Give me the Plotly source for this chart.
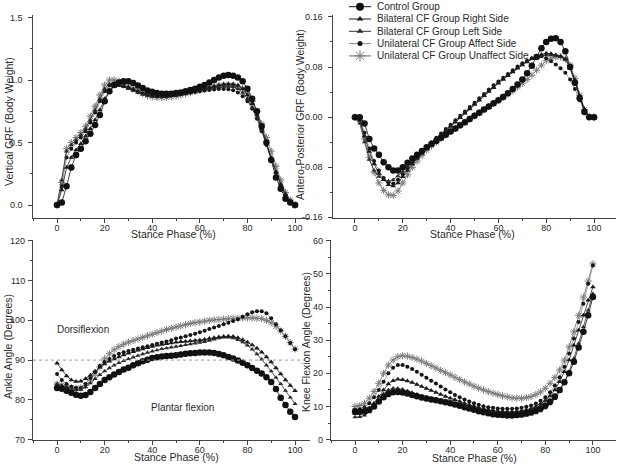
import plotly.graph_objects as go

W, H = 622, 464

# ---------------- data ----------------
stance = [0, 2, 4, 6, 8, 10, 12, 14, 16, 18, 20, 22, 24, 26, 28, 30, 32, 34, 36, 38, 40,
          42, 44, 46, 48, 50, 52, 54, 56, 58, 60, 62, 64, 66, 68, 70, 72, 74, 76, 78, 80,
          82, 84, 86, 88, 90, 92, 94, 96, 98, 100]

series_names = ["Control Group", "Bilateral CF Group Right Side", "Bilateral CF Group Left Side",
                "Unilateral CF Group Affect Side", "Unilateral CF Group Unaffect Side"]

# Vertical GRF (Body Weight)
ctrl_v = [0, 0.02, 0.15, 0.30, 0.40, 0.45, 0.51, 0.57, 0.64, 0.72, 0.83, 0.91, 0.96, 0.98, 0.99, 0.99,
          0.975, 0.955, 0.935, 0.915, 0.905, 0.895, 0.89, 0.89, 0.89, 0.895, 0.90, 0.91, 0.92, 0.93,
          0.945, 0.96, 0.98, 1.0, 1.02, 1.035, 1.04, 1.035, 1.02, 0.99, 0.93, 0.85, 0.75, 0.63, 0.50,
          0.36, 0.22, 0.13, 0.05, 0.02, 0.0]
bR_v = [0, 0.12, 0.30, 0.38, 0.44, 0.49, 0.55, 0.61, 0.68, 0.76, 0.85, 0.91, 0.945, 0.955, 0.95, 0.94,
        0.925, 0.91, 0.895, 0.885, 0.878, 0.872, 0.87, 0.87, 0.873, 0.878, 0.885, 0.893, 0.9, 0.91,
        0.92, 0.93, 0.94, 0.95, 0.958, 0.965, 0.968, 0.965, 0.955, 0.93, 0.88, 0.81, 0.72, 0.61, 0.49,
        0.37, 0.26, 0.16, 0.08, 0.03, 0.0]
bL_v = [0, 0.20, 0.43, 0.48, 0.52, 0.56, 0.61, 0.68, 0.76, 0.85, 0.93, 0.97, 0.975, 0.965, 0.95, 0.93,
        0.915, 0.9, 0.885, 0.875, 0.87, 0.865, 0.865, 0.868, 0.873, 0.88, 0.888, 0.896, 0.904, 0.912,
        0.92, 0.927, 0.933, 0.938, 0.943, 0.947, 0.948, 0.945, 0.93, 0.9, 0.85, 0.78, 0.70, 0.60, 0.49,
        0.38, 0.27, 0.17, 0.09, 0.03, 0.0]
uA_v = [0, 0.15, 0.38, 0.45, 0.50, 0.54, 0.59, 0.66, 0.74, 0.83, 0.91, 0.955, 0.965, 0.96, 0.95, 0.935,
        0.92, 0.905, 0.89, 0.88, 0.872, 0.868, 0.868, 0.87, 0.875, 0.88, 0.886, 0.892, 0.898, 0.904,
        0.91, 0.915, 0.92, 0.924, 0.927, 0.928, 0.926, 0.918, 0.9, 0.87, 0.83, 0.77, 0.69, 0.59, 0.48,
        0.37, 0.26, 0.16, 0.08, 0.03, 0.0]
uU_v = [0, 0.18, 0.45, 0.50, 0.54, 0.58, 0.63, 0.71, 0.79, 0.88, 0.96, 1.0, 1.0, 0.99, 0.97, 0.95,
        0.93, 0.91, 0.89, 0.875, 0.865, 0.86, 0.858, 0.86, 0.865, 0.872, 0.88, 0.89, 0.9, 0.91,
        0.92, 0.93, 0.94, 0.948, 0.955, 0.958, 0.96, 0.958, 0.95, 0.93, 0.89, 0.83, 0.75, 0.65, 0.54,
        0.43, 0.31, 0.2, 0.1, 0.04, 0.0]

# Antero-Posterior GRF (Body Weight)
ctrl_ap = [0, 0, -0.01, -0.035, -0.05, -0.06, -0.072, -0.08, -0.085, -0.085, -0.08, -0.073, -0.066,
           -0.06, -0.054, -0.048, -0.043, -0.038, -0.033, -0.028, -0.023, -0.018, -0.013, -0.008,
           -0.003, 0.002, 0.007, 0.012, 0.017, 0.022, 0.027, 0.032, 0.038, 0.045, 0.052, 0.06, 0.07,
           0.082, 0.096, 0.11, 0.12, 0.125, 0.126, 0.12, 0.105, 0.08, 0.055, 0.03, 0.008, 0.0, 0.0]
bR_ap = [0, -0.005, -0.03, -0.055, -0.075, -0.09, -0.1, -0.108, -0.11, -0.105, -0.095, -0.085, -0.075,
         -0.066, -0.058, -0.05, -0.043, -0.036, -0.029, -0.022, -0.015, -0.008, -0.001, 0.006, 0.013,
         0.02, 0.027, 0.034, 0.041, 0.047, 0.054, 0.06, 0.066, 0.072, 0.078, 0.083, 0.088, 0.093,
         0.097, 0.1, 0.102, 0.101, 0.099, 0.097, 0.092, 0.078, 0.057, 0.032, 0.012, 0.001, -0.002]
bL_ap = [0, -0.01, -0.04, -0.068, -0.085, -0.095, -0.1, -0.102, -0.1, -0.094, -0.087, -0.079, -0.071,
         -0.063, -0.056, -0.049, -0.042, -0.035, -0.028, -0.021, -0.014, -0.007, 0.0, 0.007, 0.014,
         0.021, 0.028, 0.035, 0.042, 0.048, 0.055, 0.061, 0.067, 0.073, 0.079, 0.084, 0.089, 0.093,
         0.096, 0.098, 0.099, 0.099, 0.098, 0.097, 0.093, 0.08, 0.06, 0.035, 0.013, 0.002, 0.0]
uA_ap = [0, -0.003, -0.025, -0.05, -0.07, -0.085, -0.097, -0.104, -0.106, -0.1, -0.091, -0.082, -0.073,
         -0.064, -0.056, -0.048, -0.04, -0.033, -0.026, -0.019, -0.012, -0.005, 0.002, 0.009, 0.016,
         0.023, 0.03, 0.037, 0.044, 0.051, 0.057, 0.063, 0.069, 0.075, 0.081, 0.086, 0.09, 0.094,
         0.097, 0.097, 0.094, 0.089, 0.084, 0.078, 0.071, 0.06, 0.045, 0.027, 0.01, 0.001, 0.0]
uU_ap = [0, -0.005, -0.035, -0.065, -0.088, -0.105, -0.117, -0.124, -0.125, -0.118, -0.105, -0.092,
         -0.08, -0.07, -0.061, -0.053, -0.046, -0.04, -0.034, -0.028, -0.023, -0.018, -0.013, -0.008,
         -0.003, 0.002, 0.007, 0.012, 0.017, 0.022, 0.027, 0.032, 0.037, 0.042, 0.048, 0.054, 0.06,
         0.067, 0.075, 0.083, 0.09, 0.094, 0.096, 0.096, 0.093, 0.083, 0.062, 0.035, 0.012, 0.001, 0.0]

# Ankle Angle (Degrees)
ctrl_a = [83, 82.8, 82.3, 81.8, 81.3, 81, 81.2, 82, 83, 84, 85, 85.7, 86.4, 87, 87.6, 88.1, 88.7, 89.2,
          89.7, 90.1, 90.5, 90.7, 90.9, 91, 91.1, 91.2, 91.4, 91.6, 91.7, 91.8, 91.9, 91.9, 91.9, 91.8,
          91.5, 91.2, 90.8, 90.4, 89.9, 89.3, 88.7, 88, 87.3, 86.6, 85.7, 84.5, 82.7, 80.5, 78.7, 77,
          75.7]
bR_a = [89.2, 87.5, 86, 85, 84.6, 84.7, 85.3, 86.2, 87.2, 88.2, 89, 89.7, 90.3, 90.8, 91.3, 91.7, 92.1,
        92.5, 92.8, 93.1, 93.4, 93.7, 93.9, 94.1, 94.3, 94.5, 94.6, 94.7, 94.8, 94.9, 95, 95.2, 95.4,
        95.6, 95.8, 95.9, 96, 95.9, 95.6, 95.1, 94.5, 93.8, 93, 92, 90.8, 89.5, 88, 86.5, 85, 83.6, 82.3]
bL_a = [84, 83.6, 83.2, 82.8, 82.5, 82.6, 83.2, 84.2, 85.3, 86.3, 87.2, 88, 88.7, 89.3, 89.8, 90.3, 90.7,
        91.1, 91.5, 91.9, 92.2, 92.5, 92.8, 93, 93.2, 93.4, 93.6, 93.8, 94, 94.2, 94.4, 94.6, 94.9, 95.2,
        95.5, 95.7, 95.7, 95.5, 95.1, 94.5, 93.7, 92.7, 91.5, 90.2, 88.7, 87.2, 85.6, 84, 82.3, 80.6, 79]
uA_a = [86.5, 85, 84, 83.3, 83, 83, 84, 85.5, 87, 88.5, 89.5, 90.3, 91, 91.6, 92, 92.3, 92.6, 92.9, 93.2,
        93.5, 93.8, 94.1, 94.4, 94.7, 95, 95.4, 95.7, 96, 96.3, 96.6, 97, 97.4, 97.8, 98.2, 98.6, 99, 99.4,
        99.8, 100.3, 100.9, 101.5, 102, 102.3, 102.3, 101.8, 100.5, 99, 97.5, 96, 94.3, 92.7]
uU_a = [84, 83.7, 83.4, 83.1, 82.9, 83, 83.6, 84.8, 86.5, 88.3, 90.3, 91.6, 92.6, 93.4, 94, 94.5, 94.9,
        95.3, 95.7, 96.1, 96.5, 96.9, 97.3, 97.7, 98, 98.3, 98.6, 98.9, 99.2, 99.4, 99.6, 99.8, 100,
        100.1, 100.2, 100.3, 100.4, 100.5, 100.5, 100.6, 100.6, 100.6, 100.5, 100.4, 100, 99.4, 98.5,
        97.3, 96, 94.4, 92.8]

# Knee Flexion Angle (Degrees)
ctrl_k = [8.5, 8.4, 8.5, 9, 10, 11.5, 12.8, 13.8, 14.3, 14.4, 14.2, 13.9, 13.5, 13.1, 12.7, 12.4, 12.1,
          11.9, 11.6, 11.3, 11, 10.6, 10.2, 9.8, 9.4, 9, 8.6, 8.3, 8, 7.7, 7.5, 7.4, 7.3, 7.3, 7.4, 7.6,
          7.9, 8.3, 8.8, 9.5, 10.3, 11.5, 13, 15, 17.3, 20, 23.5, 27.8, 32.5, 37.5, 43]
bR_k = [7.8, 8, 8.5, 9.5, 11, 13, 15, 16.8, 17.8, 18.2, 18.1, 17.7, 17.2, 16.6, 16, 15.4, 14.8, 14.2,
        13.6, 13, 12.5, 12, 11.5, 11, 10.5, 10.1, 9.7, 9.3, 9, 8.8, 8.6, 8.5, 8.4, 8.4, 8.5, 8.7, 9, 9.4,
        10, 10.8, 11.8, 13.2, 15, 17.5, 20.5, 24, 28.5, 33, 37.5, 42, 46]
bL_k = [6.8, 6.9, 7.3, 8.3, 10, 12, 13.8, 15, 15.5, 15.5, 15.2, 14.7, 14.2, 13.7, 13.2, 12.8, 12.4, 12,
        11.6, 11.2, 10.8, 10.4, 10, 9.6, 9.2, 8.8, 8.4, 8.1, 7.8, 7.5, 7.3, 7.1, 7, 7, 7, 7.1, 7.3, 7.6,
        8, 8.6, 9.5, 10.7, 12.3, 14.5, 17.2, 20.5, 24.5, 29, 34, 39, 44]
uA_k = [9, 9.2, 9.8, 11, 12.8, 15, 17.5, 20, 21.7, 22.5, 22.5, 22, 21.3, 20.5, 19.6, 18.7, 17.8, 16.9,
        16, 15.1, 14.3, 13.5, 12.8, 12.1, 11.5, 11, 10.5, 10.1, 9.8, 9.6, 9.4, 9.3, 9.3, 9.3, 9.4, 9.6,
        9.9, 10.3, 10.9, 11.7, 12.8, 14.3, 16.3, 18.8, 22, 26, 30.5, 35.5, 41, 47, 52.5]
uU_k = [10, 10.3, 11, 12.5, 14.5, 17, 20, 22.5, 24, 25, 25.3, 25.2, 24.8, 24.3, 23.7, 23, 22.3, 21.6,
        20.9, 20.2, 19.5, 18.8, 18.1, 17.4, 16.8, 16.1, 15.5, 15, 14.5, 14, 13.6, 13.2, 12.9, 12.6, 12.5,
        12.5, 12.7, 13, 13.6, 14.4, 15.5, 17, 18.7, 21, 24, 28, 32.5, 37.5, 43, 47.8, 53]

# tick labels
x_ticks = [0, 20, 40, 60, 80, 100]
y_ticks = [
    ([0.0, 0.5, 1.0, 1.5], ["0.0", "0.5", "1.0", "1.5"]),
    ([-0.16, -0.08, 0.0, 0.08, 0.16], ["-0.16", "-0.08", "0.00", "0.08", "0.16"]),
    ([70, 80, 90, 100, 110, 120], ["70", "80", "90", "100", "110", "120"]),
    ([0, 10, 20, 30, 40, 50, 60], ["0", "10", "20", "30", "40", "50", "60"]),
]
x_title = "Stance Phase (%)"
y_titles = ["Vertical GRF (Body Weight)", "Antero-Posterior GRF (Body Weight)",
            "Ankle Angle (Degrees)", "Knee Flexion Angle (Degrees)"]

panel_data = [
    [ctrl_v, bR_v, bL_v, uA_v, uU_v],
    [ctrl_ap, bR_ap, bL_ap, uA_ap, uU_ap],
    [ctrl_a, bR_a, bL_a, uA_a, uU_a],
    [ctrl_k, bR_k, bL_k, uA_k, uU_k],
]

# ---------------- styles ----------------
FONT = "Arial, Liberation Sans, sans-serif"
TXT = "#2a2a2a"
AX = "#444444"

styles = [
    dict(symbol="circle", size=6.5, color="#111111", lc="#111111", lsize=8),
    dict(symbol="triangle-up", size=5, color="#1a1a1a", lc="#222222", lsize=6),
    dict(symbol="triangle-up", size=4.5, color="#2a2a2a", lc="#333333", lsize=6),
    dict(symbol="circle", size=4, color="#151515", lc="#8a8a8a", lsize=5),
    dict(symbol="asterisk-open", size=6, color="#7a7a7a", lc="#6a6a6a", lsize=9),
]


def marker_of(st, size):
    if st["symbol"] == "asterisk-open":
        return dict(symbol=st["symbol"], size=size, color=st["color"],
                    line=dict(color=st["color"], width=1))
    return dict(symbol=st["symbol"], size=size, color=st["color"], line=dict(width=0))


def xdom(a, b):
    return [a / W, b / W]


def ydom(top, bottom):
    return [1 - bottom / H, 1 - top / H]


fig = go.Figure()

# draw order: unaffect first so black control sits on top
for p, series in enumerate(panel_data):
    ax = "" if p == 0 else str(p + 1)
    for k in [4, 3, 2, 1, 0]:
        st = styles[k]
        fig.add_trace(go.Scatter(
            x=stance, y=series[k], mode="lines+markers", name=series_names[k],
            line=dict(color=st["lc"], width=0.8), marker=marker_of(st, st["size"]),
            xaxis="x" + ax, yaxis="y" + ax, showlegend=False))

# compact legend glyphs drawn on a layout-only helper axis
for i, st in enumerate(styles):
    fig.add_trace(go.Scatter(x=[0, 1], y=[i, i], mode="lines", line=dict(color=st["lc"], width=1),
                             xaxis="x5", yaxis="y5", showlegend=False, hoverinfo="skip"))
    fig.add_trace(go.Scatter(x=[0.5], y=[i], mode="markers", marker=marker_of(st, st["lsize"]),
                             xaxis="x5", yaxis="y5", showlegend=False, hoverinfo="skip"))


def xaxis(domain, rng, anchor):
    return dict(domain=domain, range=rng, anchor=anchor, showline=True, linecolor=AX, linewidth=1,
                ticks="outside", ticklen=4, tickcolor=AX, tickwidth=1, showgrid=False, zeroline=False,
                tickmode="array", tickvals=x_ticks, ticktext=[str(v) for v in x_ticks],
                ticklabelstandoff=-3,
                tickfont=dict(size=9, color=TXT, family=FONT),
                minor=dict(ticks="outside", ticklen=2, dtick=10, tick0=0, tickcolor=AX, showgrid=False))


def yaxis(domain, rng, anchor, ticks, mdtick):
    # tick labels are written as annotations below (same values, same place)
    return dict(domain=domain, range=rng, anchor=anchor, showline=True, linecolor=AX, linewidth=1,
                ticks="outside", ticklen=4, tickcolor=AX, tickwidth=1, showgrid=False, zeroline=False,
                tickmode="array", tickvals=ticks[0], showticklabels=False,
                minor=dict(ticks="outside", ticklen=2, dtick=mdtick, tick0=0, tickcolor=AX, showgrid=False))


top = ydom(15, 218)
bot = ydom(240, 440)

fig.update_layout(
    width=W, height=H, margin=dict(l=0, r=0, t=0, b=0),
    paper_bgcolor="white", plot_bgcolor="white", showlegend=False,
    font=dict(family=FONT, color=TXT, size=10),
    xaxis=xaxis(xdom(33, 310), [-10.1, 106.3], "y"),
    yaxis=yaxis(top, [-0.104, 1.52], "x", y_ticks[0], 0.25),
    xaxis2=xaxis(xdom(333, 616), [-9.2, 109.2], "y2"),
    yaxis2=yaxis(top, [-0.161, 0.163], "x2", y_ticks[1], 0.04),
    xaxis3=xaxis(xdom(33, 310), [-10.1, 106.3], "y3"),
    yaxis3=yaxis(bot, [69.9, 120.2], "x3", y_ticks[2], 5),
    xaxis4=xaxis(xdom(331, 616), [-10.1, 109.7], "y4"),
    yaxis4=yaxis(bot, [-0.1, 60.2], "x4", y_ticks[3], 5),
    xaxis5=dict(domain=xdom(349, 371), range=[0, 1], anchor="y5", visible=False),
    yaxis5=dict(domain=ydom(0.55, 62.05), range=[4.5, -0.5], anchor="x5", visible=False),
)

# dotted 90-degree reference line in ankle panel
fig.add_shape(type="line", xref="x3 domain", yref="y3", x0=0, x1=1, y0=90, y1=90,
              line=dict(color="#9a9a9a", width=1, dash="dot"))

ann = []
# y tick labels (gap from axis line as in the reference)
label_gap = [-8, -8, -6, -6]
for p, (vals, texts) in enumerate(y_ticks):
    ax = "" if p == 0 else str(p + 1)
    for v, t in zip(vals, texts):
        ann.append(dict(text=t, x=0, xref="x" + ax + " domain", y=v, yref="y" + ax,
                        xanchor="right", yanchor="middle", xshift=label_gap[p], showarrow=False,
                        font=dict(size=9, color=TXT, family=FONT)))
# x titles
for cx, cy in [(173, 234), (472, 234), (176, 457), (474, 458)]:
    ann.append(dict(text=x_title, x=cx / W, y=1 - cy / H, xref="paper", yref="paper",
                    showarrow=False, xanchor="center", yanchor="middle",
                    font=dict(size=10.5, color=TXT, family=FONT)))
# y titles
for t, (cx, cy) in zip(y_titles, [(9, 122), (300, 115), (8, 347), (306, 342)]):
    ann.append(dict(text=t, x=cx / W, y=1 - cy / H, xref="paper", yref="paper", textangle=-90,
                    showarrow=False, xanchor="center", yanchor="middle",
                    font=dict(size=10.5, color=TXT, family=FONT)))
# legend text
for i, nm in enumerate(series_names):
    ann.append(dict(text=nm, x=375 / W, y=1 - (6.7 + 12.3 * i) / H, xref="paper", yref="paper",
                    showarrow=False, xanchor="left", yanchor="middle",
                    font=dict(size=10, color=TXT, family=FONT)))
# region labels in ankle panel
ann.append(dict(text="Dorsiflexion", x=-0.8, y=97.8, xref="x3", yref="y3", showarrow=False,
                xanchor="left", yanchor="middle", font=dict(size=10, color=TXT, family=FONT)))
ann.append(dict(text="Plantar flexion", x=38.7, y=78.1, xref="x3", yref="y3", showarrow=False,
                xanchor="left", yanchor="middle", font=dict(size=10, color=TXT, family=FONT)))
fig.update_layout(annotations=ann)

fig.write_html("out.html")
